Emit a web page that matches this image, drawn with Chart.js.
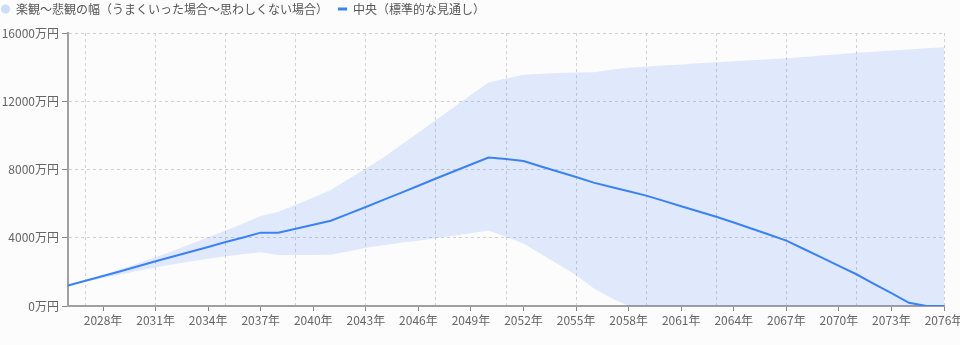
<!DOCTYPE html>
<html>
<head>
<meta charset="utf-8">
<script src="https://cdn.jsdelivr.net/npm/chart.js@4.4.1/dist/chart.umd.min.js"></script>
<style>
  html, body { margin: 0; padding: 0; background: #fcfcfc; }
  #wrap { width: 960px; height: 345px; }
</style>
</head>
<body>
<div id="wrap"><canvas id="chart"></canvas></div>
<script>
// 資産推移の見通し（万円）。楽観・悲観の幅と中央値
var years = [
  2026, 2027, 2028, 2029, 2030, 2031, 2032, 2033, 2034, 2035,
  2036, 2037, 2038, 2039, 2040, 2041, 2042, 2043, 2044, 2045,
  2046, 2047, 2048, 2049, 2050, 2051, 2052, 2053, 2054, 2055,
  2056, 2057, 2058, 2059, 2060, 2061, 2062, 2063, 2064, 2065,
  2066, 2067, 2068, 2069, 2070, 2071, 2072, 2073, 2074, 2075,
  2076
];
var upper = [
  1200, 1500, 1820, 2150, 2500, 2860, 3240, 3630, 4030, 4420,
  4830, 5270, 5530, 5940, 6360, 6800, 7430, 8060, 8700, 9430,
  10160, 10900, 11640, 12370, 13100, 13340, 13560, 13610, 13650, 13680,
  13700, 13850, 13960, 14040, 14100, 14160, 14220, 14280, 14340, 14400,
  14460, 14520, 14600, 14680, 14760, 14840, 14900, 14970, 15030, 15100,
  15160
];
var lower = [
  1200, 1420, 1640, 1850, 2060, 2260, 2440, 2610, 2770, 2920,
  3040, 3150, 2990, 2990, 2990, 3000, 3200, 3420, 3560, 3700,
  3830, 3970, 4110, 4260, 4430, 4050, 3670, 3050, 2430, 1800,
  1040, 470, 0, 0, 0, 0, 0, 0, 0, 0,
  0, 0, 0, 0, 0, 0, 0, 0, 0, 0,
  0
];
var median = [
  1200, 1480, 1760, 2040, 2330, 2620, 2900, 3180, 3460, 3750,
  4020, 4300, 4300, 4530, 4760, 5000, 5400, 5800, 6220, 6630,
  7050, 7470, 7880, 8290, 8700, 8620, 8500, 8180, 7870, 7560,
  7230, 6980, 6730, 6470, 6160, 5850, 5540, 5230, 4890, 4540,
  4190, 3830, 3340, 2850, 2350, 1860, 1300, 750, 190, 0,
  0
];
var yTicks = [0, 4000, 8000, 12000, 16000];

var BAND_LABEL = "楽観～悲観の幅（うまくいった場合～思わしくない場合）";
var MEDIAN_LABEL = "中央（標準的な見通し）";

var blue = "#3b82f6";
var bandFill = "rgba(59, 130, 246, 0.15)";
var textColor = "#666";
var gridColor = "#cfcfd4";
var axisColor = "#a0a0a0";

Chart.defaults.font.family = "'Noto Sans CJK JP', 'Noto Sans', sans-serif";
Chart.defaults.font.size = 12;
Chart.defaults.color = textColor;

// 縦グリッドは 2027 年から 4 年おき（2075 年は除く）と右端
function hasGrid(year) {
  return ((year - 2027) % 4 === 0 && year < 2075) || year === 2076;
}
// 目盛りラベルは 2028 年から 3 年おき
function hasLabel(year) {
  return (year - 2028) % 3 === 0;
}

// 凡例の下に余白を足して描画領域の上端を揃える
var legendGap = {
  id: "legendGap",
  beforeInit: function (chart) {
    var lg = chart.legend;
    if (!lg) return;
    var fit = lg.fit;
    lg.fit = function () {
      fit.call(this);
      this.height += 8;
    };
  },
};

new Chart(document.getElementById("chart"), {
  type: "line",
  data: {
    labels: years,
    datasets: [
      {
        label: BAND_LABEL,
        data: upper,
        fill: "+1",
        backgroundColor: bandFill,
        borderWidth: 0,
        pointRadius: 0,
        pointStyle: "circle",
      },
      {
        label: "lower",
        data: lower,
        fill: false,
        borderWidth: 0,
        pointRadius: 0,
      },
      {
        label: MEDIAN_LABEL,
        data: median,
        fill: false,
        borderColor: blue,
        backgroundColor: blue,
        borderWidth: 2,
        pointRadius: 0,
        pointStyle: "line",
        tension: 0,
      },
    ],
  },
  options: {
    responsive: true,
    maintainAspectRatio: false,
    animation: false,
    layout: { padding: { left: -9, right: 0, top: -7, bottom: 0 } },
    plugins: {
      tooltip: { enabled: false },
      legend: {
        align: "start",
        labels: {
          usePointStyle: true,
          boxWidth: 9,
          boxHeight: 6.5,
          padding: 10,
          color: "#555",
          font: { size: 12 },
          filter: function (item) {
            return item.datasetIndex !== 1;
          },
          generateLabels: function (chart) {
            var items = Chart.defaults.plugins.legend.labels.generateLabels(chart);
            items.forEach(function (it) {
              if (it.datasetIndex === 0) {
                it.fillStyle = "#cddcf7";
                it.strokeStyle = "#cddcf7";
                it.lineWidth = 0;
              }
              if (it.datasetIndex === 2) {
                it.lineWidth = 3;
              }
            });
            return items;
          },
        },
      },
    },
    scales: {
      x: {
        ticks: {
          autoSkip: false,
          maxRotation: 0,
          padding: 2,
          color: textColor,
          callback: function (value, index) {
            var y = years[index];
            return hasLabel(y) ? y + "年" : "";
          },
        },
        grid: {
          color: function (ctx) {
            return hasGrid(years[ctx.index]) ? gridColor : "transparent";
          },
          tickColor: function (ctx) {
            return hasLabel(years[ctx.index]) ? "#888" : "transparent";
          },
          tickLength: 5,
        },
        border: { color: axisColor, width: 2, dash: [3, 3] },
        afterFit: function (scale) {
          scale.height = 39;
          scale.paddingLeft = 0;
          scale.paddingRight = 16;
        },
      },
      y: {
        min: 0,
        max: 16000,
        afterBuildTicks: function (scale) {
          scale.ticks = yTicks.map(function (v) {
            return { value: v };
          });
        },
        ticks: {
          padding: 3,
          color: textColor,
          callback: function (value) {
            return value + "万円";
          },
        },
        grid: { color: gridColor, tickColor: "#888", tickLength: 6 },
        border: { color: axisColor, width: 2, dash: [3, 3] },
        afterFit: function (scale) {
          scale.width = 77;
        },
      },
    },
  },
  plugins: [legendGap],
});
</script>
</body>
</html>
